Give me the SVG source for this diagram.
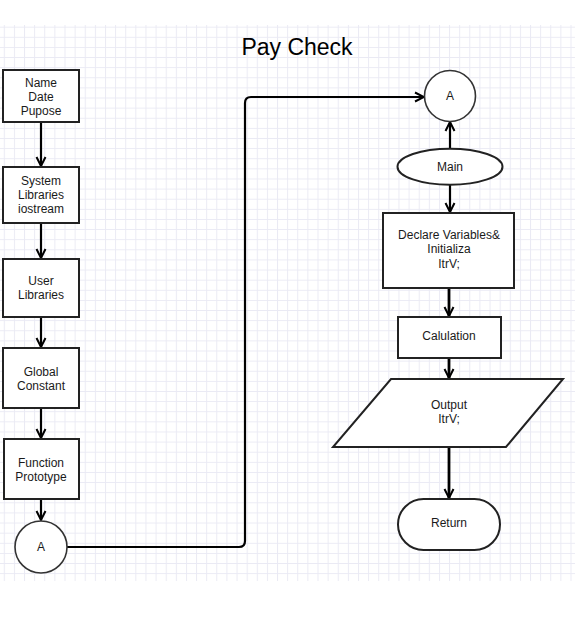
<svg xmlns="http://www.w3.org/2000/svg" width="583" height="626" viewBox="0 0 583 626">
<defs>
<pattern id="grid" x="3.8" y="26.7" width="10.12" height="10.12" patternUnits="userSpaceOnUse">
<path d="M0 0.5 H10.12 M0.5 0 V10.12" fill="none" stroke="#eaeaf4" stroke-width="1"/>
</pattern>
<marker id="arr" viewBox="0 0 12 12" refX="11" refY="6" markerWidth="12" markerHeight="12" markerUnits="userSpaceOnUse" orient="auto">
<path d="M2 1.5 L11 6 L2 10.5" fill="none" stroke="#000" stroke-width="2"/>
</marker>
<style>
.shape{fill:#fff;stroke:#222;stroke-width:2}
.circ{fill:#fff;stroke:#333;stroke-width:1.6}
.lbl{font-family:"Liberation Sans",Arial,sans-serif;font-size:12px;fill:#1a1a1a;text-anchor:middle;dominant-baseline:central}
.conn{fill:none;stroke:#000;stroke-width:2.2;marker-end:url(#arr)}
.thick{stroke-width:2.8}
</style>
</defs>
<rect width="583" height="626" fill="#fff"/>
<rect x="0" y="25" width="575" height="556" fill="url(#grid)"/>
<text x="297" y="55" font-family="'Liberation Sans',Arial,sans-serif" font-size="23" fill="#000" text-anchor="middle">Pay Check</text>

<g id="connectors">
<path class="conn" d="M41 122 V166"/>
<path class="conn" d="M41 223 V258"/>
<path class="conn" d="M41 317 V347"/>
<path class="conn" d="M41 408 V438"/>
<path class="conn" d="M41 499 V520"/>
<path class="conn" d="M67 547 H239 Q245 547 245 541 V103 Q245 97 251 97 H424"/>
<path class="conn" d="M450 148 V122"/>
<path class="conn" d="M450 185 V212"/>
<path class="conn thick" d="M449 288 V316"/>
<path class="conn thick" d="M449 358 V378"/>
<path class="conn thick" d="M449 447 V498"/>
</g>

<g id="n-name">
<rect class="shape" x="3" y="70" width="76" height="52"/>
<text class="lbl" x="41" y="83">Name</text>
<text class="lbl" x="41" y="97">Date</text>
<text class="lbl" x="41" y="111">Pupose</text>
</g>
<g id="n-syslib">
<rect class="shape" x="3" y="167" width="76" height="56"/>
<text class="lbl" x="41" y="181">System</text>
<text class="lbl" x="41" y="195">Libraries</text>
<text class="lbl" x="41" y="209">iostream</text>
</g>
<g id="n-userlib">
<rect class="shape" x="3" y="259" width="76" height="58"/>
<text class="lbl" x="41" y="281">User</text>
<text class="lbl" x="41" y="295">Libraries</text>
</g>
<g id="n-global">
<rect class="shape" x="3" y="348" width="76" height="60"/>
<text class="lbl" x="41" y="372">Global</text>
<text class="lbl" x="41" y="386">Constant</text>
</g>
<g id="n-func">
<rect class="shape" x="4" y="439" width="75" height="60"/>
<text class="lbl" x="41" y="463">Function</text>
<text class="lbl" x="41" y="477">Prototype</text>
</g>
<g id="n-a1">
<circle class="circ" cx="41" cy="547" r="26"/>
<text class="lbl" x="41" y="547">A</text>
</g>
<g id="n-a2">
<circle class="circ" cx="450" cy="96" r="25.5"/>
<text class="lbl" x="450" y="96">A</text>
</g>
<g id="n-main">
<ellipse class="shape" cx="450" cy="166.7" rx="52.5" ry="18"/>
<text class="lbl" x="450" y="167">Main</text>
</g>
<g id="n-declare">
<rect class="shape" x="383" y="213" width="131" height="75"/>
<text class="lbl" x="449" y="235">Declare Variables&amp;</text>
<text class="lbl" x="449" y="249">Initializa</text>
<text class="lbl" x="449" y="264">ItrV;</text>
</g>
<g id="n-calc">
<rect class="shape" x="398" y="317" width="103" height="41"/>
<text class="lbl" x="449" y="336">Calulation</text>
</g>
<g id="n-output">
<polygon class="shape" points="391,379 563,379 506,447 333,447"/>
<text class="lbl" x="449" y="405">Output</text>
<text class="lbl" x="449" y="419">ItrV;</text>
</g>
<g id="n-return">
<rect class="shape" x="398" y="499" width="102" height="51" rx="25.5" ry="25.5"/>
<text class="lbl" x="449" y="523">Return</text>
</g>
</svg>
